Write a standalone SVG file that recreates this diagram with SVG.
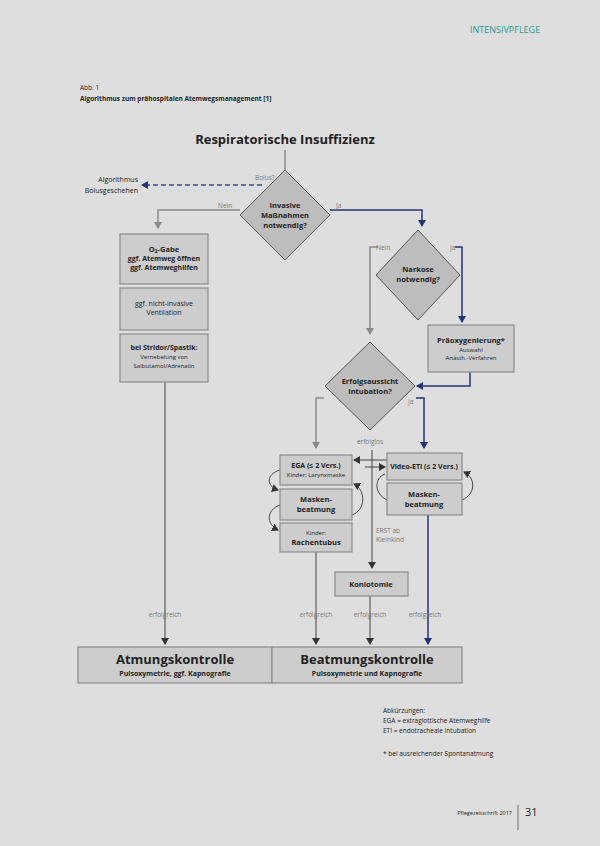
<svg xmlns="http://www.w3.org/2000/svg" width="600" height="846" viewBox="0 0 600 846">
<defs>
<marker id="ag" markerWidth="8" markerHeight="8" refX="6" refY="4" orient="auto" markerUnits="userSpaceOnUse"><path d="M0,0 L7,4 L0,8 z" fill="#888"/></marker>
<marker id="ab" markerWidth="8" markerHeight="8" refX="6" refY="4" orient="auto" markerUnits="userSpaceOnUse"><path d="M0,0 L7,4 L0,8 z" fill="#223377"/></marker>
<marker id="ak" markerWidth="8" markerHeight="8" refX="6" refY="4" orient="auto" markerUnits="userSpaceOnUse"><path d="M0,0 L7,4 L0,8 z" fill="#333"/></marker>
</defs>
<style>
text{font-family:"Open Sans","Liberation Sans",sans-serif;fill:#222}
.b{font-weight:bold}
.s{font-size:7px}
.m{font-size:7.5px;font-weight:bold}
.l{font-size:6.5px;fill:#777}
.box{fill:#cdcdcd;stroke:#8a8a8a;stroke-width:1.2}
.dia{fill:#bdbdbd;stroke:#555;stroke-width:1}
.g{fill:none;stroke:#8a8a8a;stroke-width:1.5}
.bl{fill:none;stroke:#223377;stroke-width:1.5}
.k{fill:none;stroke:#444;stroke-width:1}
</style>
<rect width="600" height="846" fill="#dedede"/>
<text x="470" y="33" font-size="9" style="fill:#2a9a8a">INTENSIVPFLEGE</text>
<text x="80" y="90" font-size="6.5">Abb. 1</text>
<text x="80" y="101" font-size="6.5" class="b">Algorithmus zum prähospitalen Atemwegsmanagement [1]</text>
<text x="285" y="144" font-size="13" class="b" text-anchor="middle">Respiratorische Insuffizienz</text>

<g id="connectors">
<line x1="285" y1="150" x2="285" y2="170" class="g"/>
<line x1="262" y1="185" x2="142" y2="185" stroke="#3b4d99" stroke-width="1.3" stroke-dasharray="5,3" marker-end="url(#ab)"/>
<polyline points="240,210 158,210 158,228" class="g" marker-end="url(#ag)"/>
<polyline points="330,210 422,210 422,226" class="bl" marker-end="url(#ab)"/>
<line x1="165" y1="382" x2="165" y2="644" class="k" marker-end="url(#ak)"/>
<polyline points="378,247 370,247 370,334" class="g" marker-end="url(#ag)"/>
<polyline points="455,247 462,247 462,322" class="bl" marker-end="url(#ab)"/>
<polyline points="470,372 470,386 417,386" class="bl" marker-end="url(#ab)"/>
<polyline points="324,398 316,398 316,448" class="g" marker-end="url(#ag)"/>
<polyline points="416,398 424,398 424,448" class="bl" marker-end="url(#ab)"/>
<line x1="387" y1="460" x2="354" y2="460" class="k" marker-end="url(#ak)"/>
<line x1="365" y1="467" x2="385" y2="467" class="k" marker-end="url(#ak)"/>
<line x1="372" y1="450" x2="372" y2="568" class="k" marker-end="url(#ak)"/>
<path d="M280,470 C266,474 266,486 278,490" class="k" marker-end="url(#ak)"/>
<path d="M280,505 C266,510 266,524 278,530" class="k" marker-end="url(#ak)"/>
<path d="M352,515 C366,510 366,490 354,484" class="k" marker-end="url(#ak)"/>
<path d="M462,500 C476,494 476,478 464,472" class="k" marker-end="url(#ak)"/>
<path d="M387,500 C374,494 374,478 385,474" class="k"/>
<line x1="316" y1="552" x2="316" y2="644" class="k" marker-end="url(#ak)"/>
<line x1="370" y1="596" x2="370" y2="644" class="k" marker-end="url(#ak)"/>
<line x1="428" y1="515" x2="428" y2="644" class="bl" marker-end="url(#ab)"/>
</g>

<text x="255" y="180" class="l">Bolus?</text>
<text x="138" y="182" class="s" text-anchor="end">Algorithmus</text>
<text x="138" y="193" class="s" text-anchor="end">Bolusgeschehen</text>
<text x="218" y="208" class="l">Nein</text>
<text x="336" y="208" class="l">Ja</text>
<text x="376" y="250" class="l">Nein</text>
<text x="450" y="250" class="l">Ja</text>
<text x="343" y="404" class="l">Nein</text>
<text x="408" y="404" class="l">Ja</text>
<text x="370" y="444" class="l" text-anchor="middle">erfolglos</text>
<text x="376" y="533" class="l">ERST ab</text>
<text x="376" y="542" class="l">Kleinkind</text>
<text x="165" y="617" class="l" text-anchor="middle">erfolgreich</text>
<text x="316" y="617" class="l" text-anchor="middle">erfolgreich</text>
<text x="370" y="617" class="l" text-anchor="middle">erfolgreich</text>
<text x="425" y="617" class="l" text-anchor="middle">erfolgreich</text>

<g id="d1"><polygon points="285,170 330,215 285,260 240,215" class="dia"/>
<text x="285" y="208" class="m" text-anchor="middle">Invasive</text><text x="285" y="218" class="m" text-anchor="middle">Maßnahmen</text><text x="285" y="228" class="m" text-anchor="middle">notwendig?</text></g>

<g id="left1"><rect x="120" y="234" width="88" height="50" class="box"/>
<text x="164" y="252" class="m" text-anchor="middle">O₂-Gabe</text><text x="164" y="261" class="s b" text-anchor="middle">ggf. Atemweg öffnen</text><text x="164" y="270" class="s b" text-anchor="middle">ggf. Atemweghilfen</text></g>
<g id="left2"><rect x="120" y="288" width="88" height="42" class="box"/>
<text x="164" y="306" class="s" text-anchor="middle">ggf. nicht-invasive</text><text x="164" y="315" class="s" text-anchor="middle">Ventilation</text></g>
<g id="left3"><rect x="120" y="334" width="88" height="48" class="box"/>
<text x="164" y="350" class="s b" text-anchor="middle">bei Stridor/Spastik:</text><text x="164" y="359" font-size="6" text-anchor="middle">Vernebelung von</text><text x="164" y="368" font-size="6" text-anchor="middle">Salbutamol/Adrenalin</text></g>

<g id="d2"><polygon points="418,230 460,275 418,320 376,275" class="dia"/>
<text x="418" y="272" class="m" text-anchor="middle">Narkose</text><text x="418" y="282" class="m" text-anchor="middle">notwendig?</text></g>
<g id="praeox"><rect x="428" y="325" width="86" height="47" class="box"/>
<text x="471" y="343" class="m" text-anchor="middle">Präoxygenierung*</text><text x="471" y="352" font-size="6" text-anchor="middle">Auswahl</text><text x="471" y="360" font-size="6" text-anchor="middle">Anästh.-Verfahren</text></g>
<g id="d3"><polygon points="370,342 415,386 370,430 325,386" class="dia"/>
<text x="370" y="384" class="m" text-anchor="middle">Erfolgsaussicht</text><text x="370" y="394" class="m" text-anchor="middle">Intubation?</text></g>

<g id="ega"><rect x="280" y="455" width="72" height="30" class="box"/>
<text x="316" y="468" class="s b" text-anchor="middle">EGA (≤ 2 Vers.)</text><text x="316" y="477" font-size="6" text-anchor="middle">Kinder: Larynxmaske</text></g>
<g id="maske1"><rect x="280" y="489" width="72" height="31" class="box"/>
<text x="316" y="502" class="m" text-anchor="middle">Masken-</text><text x="316" y="512" class="m" text-anchor="middle">beatmung</text></g>
<g id="rachen"><rect x="280" y="523" width="72" height="29" class="box"/>
<text x="316" y="535" font-size="6" text-anchor="middle">Kinder:</text><text x="316" y="545" class="m" text-anchor="middle">Rachentubus</text></g>
<g id="video"><rect x="387" y="453" width="75" height="27" class="box"/>
<text x="424" y="469" class="s b" text-anchor="middle">Video-ETI (≤ 2 Vers.)</text></g>
<g id="maske2"><rect x="387" y="483" width="75" height="32" class="box"/>
<text x="424" y="497" class="m" text-anchor="middle">Masken-</text><text x="424" y="507" class="m" text-anchor="middle">beatmung</text></g>
<g id="konio"><rect x="335" y="572" width="73" height="24" class="box"/>
<text x="371" y="587" class="m" text-anchor="middle">Koniotomie</text></g>

<g id="atmung"><rect x="78" y="647" width="194" height="36" class="box"/>
<text x="175" y="664" font-size="13" class="b" text-anchor="middle">Atmungskontrolle</text><text x="175" y="676" class="s b" text-anchor="middle">Pulsoxymetrie, ggf. Kapnografie</text></g>
<g id="beatmung"><rect x="272" y="647" width="190" height="36" class="box"/>
<text x="367" y="664" font-size="13" class="b" text-anchor="middle">Beatmungskontrolle</text><text x="367" y="676" class="s b" text-anchor="middle">Pulsoxymetrie und Kapnografie</text></g>

<text x="383" y="713" font-size="6.5">Abkürzungen:</text>
<text x="383" y="723" font-size="6.5">EGA = extraglottische Atemweghilfe</text>
<text x="383" y="733" font-size="6.5">ETI = endotracheale Intubation</text>
<text x="383" y="756" font-size="6.5">* bei ausreichender Spontanatmung</text>
<text x="512" y="815" font-size="5.5" text-anchor="end">Pflegezeitschrift 2017</text>
<line x1="518" y1="805" x2="518" y2="830" stroke="#555" stroke-width="0.8"/>
<text x="525" y="816" font-size="11">31</text>
</svg>
